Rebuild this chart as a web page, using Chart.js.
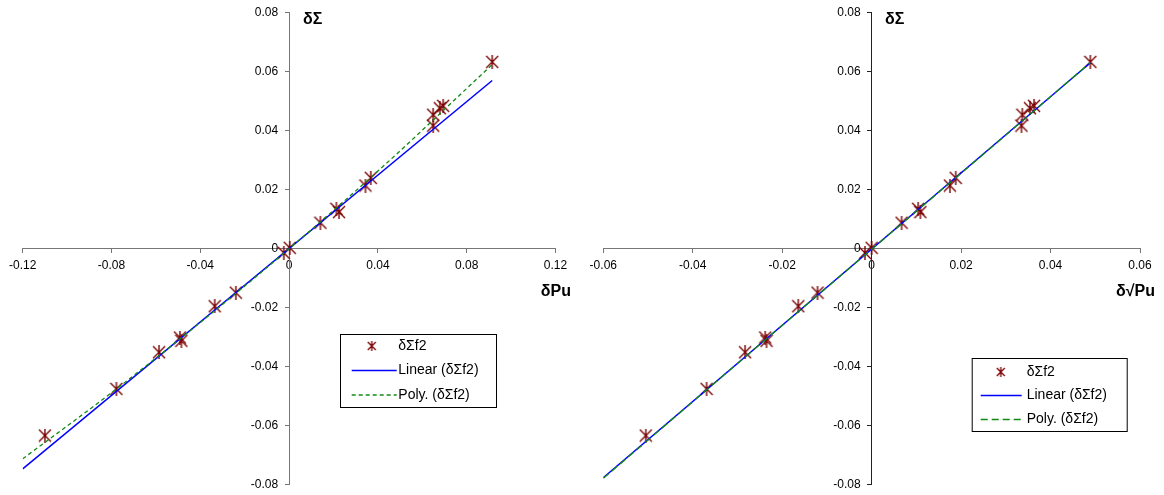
<!DOCTYPE html>
<html>
<head>
<meta charset="utf-8">
<script src="https://cdn.jsdelivr.net/npm/chart.js@4/dist/chart.umd.min.js"></script>
<style>
  html, body { margin: 0; padding: 0; background: #fff; }
  .wrap { position: absolute; top: 0; width: 582px; height: 495px; }
</style>
</head>
<body>
<div class="wrap" style="left:0"><canvas id="left" width="582" height="495"></canvas></div>
<div class="wrap" style="left:582px"><canvas id="right" width="582" height="495"></canvas></div>
<script>
// values
const dSigma = [0.0003, -0.0014, 0.0088, 0.0135, 0.0124, 0.0214, 0.0240, 0.0454, 0.0417, 0.0476, 0.0484, 0.0633,
  -0.0149, -0.0195, -0.0301, -0.0312, -0.0351, -0.0475, -0.0633];
const dPu = [0.0003, -0.0024, 0.0141, 0.0213, 0.0225, 0.0344, 0.0368, 0.0649, 0.0649, 0.0679, 0.0694, 0.0915,
  -0.0240, -0.0335, -0.0492, -0.0485, -0.0586, -0.0778, -0.1100];
const dSqrtPu = [0.0000, -0.0015, 0.0067, 0.0104, 0.0109, 0.0175, 0.0188, 0.0337, 0.0335, 0.0354, 0.0363, 0.0489,
  -0.0121, -0.0164, -0.0238, -0.0235, -0.0283, -0.0369, -0.0505];

// trend lines
const linLeftX = [-0.12, 0.0915];
const linLeftY = [-0.0746, 0.0570];
const polyLeftX = [-0.12, -0.08, -0.04, 0, 0.04, 0.0915];
const polyLeftY = [-0.0712, -0.0488, -0.0250, 0, 0.0263, 0.0624];
const linRightX = [-0.06, 0.0489];
const linRightY = [-0.0776, 0.0630];
const polyRightX = [-0.06, -0.03, 0, 0.03, 0.0489];
const polyRightY = [-0.0778, -0.0389, -0.0002, 0.0385, 0.0631];

const leftXTicks = ['-0.12', '-0.08', '-0.04', '0', '0.04', '0.08', '0.12'];
const rightXTicks = ['-0.06', '-0.04', '-0.02', '0', '0.02', '0.04', '0.06'];
const yTicks = ['-0.08', '-0.06', '-0.04', '-0.02', '0', '0.02', '0.04', '0.06', '0.08'];

const seriesName = 'δΣf2';
const legendNames = ['δΣf2', 'Linear (δΣf2)', 'Poly. (δΣf2)'];

Chart.defaults.font.family = '"Liberation Sans", Arial, sans-serif';
Chart.defaults.color = '#000';

function starMarker(size, color, lw) {
  const c = document.createElement('canvas');
  c.width = size; c.height = size;
  const g = c.getContext('2d');
  g.strokeStyle = color;
  g.lineWidth = lw;
  g.beginPath();
  g.moveTo(1, 1); g.lineTo(size - 1, size - 1);
  g.moveTo(size - 1, 1); g.lineTo(1, size - 1);
  g.moveTo(size / 2, 0); g.lineTo(size / 2, size);
  g.stroke();
  return c;
}

const bigStar = starMarker(14, '#7a0000', 1.4);
const smallStar = starMarker(10, '#7a0000', 1.3);

function pts(xs, ys) {
  return xs.map((x, i) => ({ x: x, y: ys[i] }));
}

// y labels of a centred axis sit on the axis line; move them left of the ticks
const yLabelShift = {
  id: 'yLabelShift',
  beforeDraw(chart) {
    const items = chart.scales.y.getLabelItems();
    items.forEach(it => { it.options.translation[0] -= 11; });
  }
};

// axis titles + legend box
const decor = {
  id: 'decor',
  afterDraw(chart, args, opts) {
    const ctx = chart.ctx;
    ctx.save();
    ctx.fillStyle = '#000';
    ctx.font = 'bold 16px "Liberation Sans", Arial, sans-serif';
    ctx.textBaseline = 'middle';
    ctx.textAlign = 'left';
    ctx.fillText(opts.yTitle, opts.yTitlePos[0], opts.yTitlePos[1]);
    ctx.textAlign = 'right';
    ctx.fillText(opts.xTitle, opts.xTitlePos[0], opts.xTitlePos[1]);

    const b = opts.box;
    ctx.fillStyle = '#fff';
    ctx.fillRect(b.x, b.y, b.w, b.h);
    ctx.strokeStyle = '#000';
    ctx.lineWidth = 1;
    ctx.strokeRect(b.x + 0.5, b.y + 0.5, b.w, b.h);

    ctx.font = '14px "Liberation Sans", Arial, sans-serif';
    ctx.textAlign = 'left';
    ctx.fillStyle = '#000';
    chart.data.datasets.forEach((ds, i) => {
      const y = b.rowY[i];
      if (i === 0) {
        ctx.drawImage(smallStar, b.markX - 5, y - 5);
      } else {
        ctx.beginPath();
        ctx.strokeStyle = ds.borderColor;
        ctx.lineWidth = ds.borderWidth;
        ctx.setLineDash(ds.borderDash || []);
        ctx.moveTo(b.lineX0, y);
        ctx.lineTo(b.lineX1, y);
        ctx.stroke();
        ctx.setLineDash([]);
      }
      ctx.fillText(legendNames[i], b.textX, y);
    });
    ctx.restore();
  }
};

function makeChart(id, xs, linX, linY, polyX, polyY, xMin, xMax, xStep, xLabels, pad, dash, yAxisColor, deco) {
  const axisColor = '#777';
  return new Chart(document.getElementById(id), {
    type: 'scatter',
    data: {
      datasets: [
        {
          label: seriesName,
          data: pts(xs, dSigma),
          pointStyle: bigStar,
          pointRadius: 7,
          showLine: false,
          order: 3
        },
        {
          label: 'Linear (' + seriesName + ')',
          data: pts(linX, linY),
          showLine: true,
          borderColor: '#0000ff',
          borderWidth: 1.5,
          pointRadius: 0,
          order: 2
        },
        {
          label: 'Poly. (' + seriesName + ')',
          data: pts(polyX, polyY),
          showLine: true,
          borderColor: '#108a10',
          borderWidth: 1.3,
          borderDash: dash,
          pointRadius: 0,
          tension: 0.4,
          cubicInterpolationMode: 'monotone',
          order: 1
        }
      ]
    },
    options: {
      responsive: false,
      animation: false,
      events: [],
      layout: { padding: pad, autoPadding: false },
      plugins: {
        legend: { display: false },
        tooltip: { enabled: false },
        decor: deco
      },
      scales: {
        x: {
          type: 'linear',
          min: xMin,
          max: xMax,
          position: { y: 0 },
          border: { color: axisColor, width: 1 },
          grid: { drawOnChartArea: false, color: axisColor, tickLength: 4 },
          ticks: {
            stepSize: xStep,
            autoSkip: false,
            maxRotation: 0,
            padding: 6,
            font: { size: 12 },
            callback: (v, i) => xLabels[i]
          }
        },
        y: {
          type: 'linear',
          min: -0.08,
          max: 0.08,
          position: { x: 0 },
          border: { color: yAxisColor, width: 1 },
          grid: { drawOnChartArea: false, color: yAxisColor, tickLength: 4 },
          ticks: {
            stepSize: 0.02,
            autoSkip: false,
            font: { size: 12 },
            callback: (v, i) => yTicks[i]
          }
        }
      }
    },
    plugins: [yLabelShift, decor]
  });
}

makeChart('left', dPu, linLeftX, linLeftY, polyLeftX, polyLeftY, -0.12, 0.12, 0.04, leftXTicks,
  { left: 22.7, right: 26.5, top: 12.6, bottom: 9 }, [4, 3], '#777',
  {
    yTitle: 'δΣ', yTitlePos: [303, 20],
    xTitle: 'δPu', xTitlePos: [571, 292],
    box: { x: 340, y: 334, w: 156, h: 73, rowY: [346, 370.5, 395], markX: 371.7, lineX0: 351.7, lineX1: 396.7, textX: 398.3 }
  });

makeChart('right', dSqrtPu, linRightX, linRightY, polyRightX, polyRightY, -0.06, 0.06, 0.02, rightXTicks,
  { left: 21.3, right: 24, top: 12.6, bottom: 9 }, [7, 4], '#222',
  {
    yTitle: 'δΣ', yTitlePos: [303, 20],
    xTitle: 'δ√Pu', xTitlePos: [573, 292],
    box: { x: 389.7, y: 358, w: 155, h: 73, rowY: [372, 395.5, 419.5], markX: 418.7, lineX0: 398.7, lineX1: 439.7, textX: 444.7 }
  });
</script>
</body>
</html>
